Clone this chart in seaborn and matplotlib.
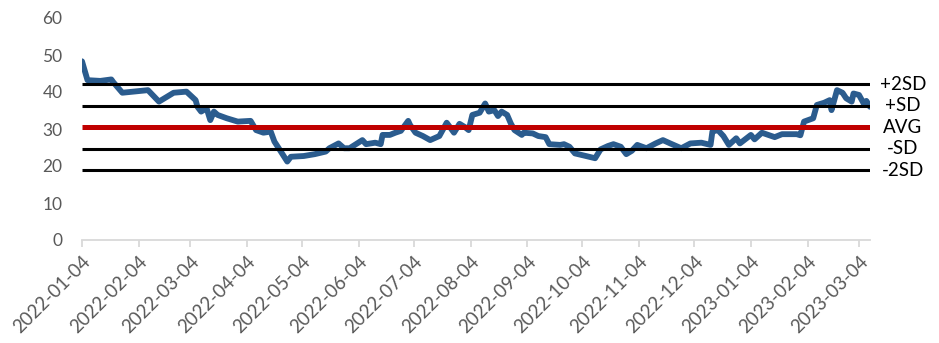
import matplotlib
matplotlib.use("Agg")
import matplotlib.pyplot as plt
import matplotlib.transforms as mtransforms
from matplotlib.transforms import blended_transform_factory
import pandas as pd
import seaborn as sns

# Daily reading of the series (sampled at its turning points)
dates = [
    "2022-01-04", "2022-01-07", "2022-01-14", "2022-01-20", "2022-01-21", "2022-01-26",
    "2022-02-09", "2022-02-15", "2022-02-23", "2022-03-02", "2022-03-07", "2022-03-08",
    "2022-03-10", "2022-03-13", "2022-03-15", "2022-03-17", "2022-03-19", "2022-03-24",
    "2022-03-30", "2022-04-06", "2022-04-09", "2022-04-13", "2022-04-17", "2022-04-19",
    "2022-04-22", "2022-04-26", "2022-04-28", "2022-05-05", "2022-05-11", "2022-05-17",
    "2022-05-19", "2022-05-24", "2022-05-27", "2022-05-30", "2022-06-06", "2022-06-08",
    "2022-06-13", "2022-06-16", "2022-06-17", "2022-06-21", "2022-06-24", "2022-06-27",
    "2022-07-01", "2022-07-02", "2022-07-05", "2022-07-09", "2022-07-13", "2022-07-18",
    "2022-07-22", "2022-07-26", "2022-07-29", "2022-08-01", "2022-08-03", "2022-08-05",
    "2022-08-09", "2022-08-12", "2022-08-14", "2022-08-17", "2022-08-19", "2022-08-21",
    "2022-08-24", "2022-08-26", "2022-08-28", "2022-09-01", "2022-09-02", "2022-09-07",
    "2022-09-10", "2022-09-14", "2022-09-16", "2022-09-22", "2022-09-24", "2022-09-27",
    "2022-09-30", "2022-10-06", "2022-10-11", "2022-10-14", "2022-10-18", "2022-10-21",
    "2022-10-25", "2022-10-28", "2022-10-31", "2022-11-03", "2022-11-08", "2022-11-13",
    "2022-11-17", "2022-11-21", "2022-11-27", "2022-12-02", "2022-12-08", "2022-12-13",
    "2022-12-14", "2022-12-17", "2022-12-20", "2022-12-23", "2022-12-27", "2022-12-29",
    "2023-01-04", "2023-01-06", "2023-01-10", "2023-01-17", "2023-01-21", "2023-01-29",
    "2023-01-31", "2023-02-02", "2023-02-07", "2023-02-09", "2023-02-13", "2023-02-16",
    "2023-02-17", "2023-02-20", "2023-02-23", "2023-02-25", "2023-02-28", "2023-03-01",
    "2023-03-04", "2023-03-07", "2023-03-08", "2023-03-10",
]
values = [
    48.3, 43.2, 43.0, 43.4, 42.7, 39.8,
    40.5, 37.4, 39.8, 40.1, 37.8, 36.0,
    34.7, 35.6, 32.4, 34.7, 33.8, 32.9,
    32.0, 32.2, 29.7, 29.0, 29.3, 26.6,
    24.3, 21.2, 22.5, 22.7, 23.2, 23.9,
    24.8, 26.1, 24.8, 24.8, 27.0, 25.9,
    26.3, 25.9, 28.4, 28.4, 29.0, 29.5,
    32.2, 31.1, 29.0, 28.1, 27.0, 28.1,
    31.7, 29.0, 31.4, 30.5, 29.7, 33.8,
    34.4, 36.9, 34.7, 35.1, 33.5, 34.7,
    33.8, 31.5, 29.7, 28.4, 29.0, 28.8,
    28.1, 27.8, 25.9, 25.7, 25.9, 25.2,
    23.4, 22.7, 22.1, 24.5, 25.4, 25.9,
    25.2, 23.2, 24.1, 25.7, 24.8, 26.1,
    27.0, 26.1, 24.8, 26.1, 26.3, 25.7,
    29.3, 29.7, 28.1, 25.7, 27.5, 26.1,
    28.4, 27.2, 29.0, 27.8, 28.6, 28.6,
    28.3, 32.0, 32.9, 36.5, 37.1, 37.8,
    35.1, 40.5, 39.8, 38.3, 37.4, 39.6,
    39.2, 36.5, 37.6, 36.0,
]

# Band statistics
avg_value = 30.5
sd_value = 5.8
band_names = ["+2SD", "+SD", "AVG", "-SD", "-2SD"]
band_mult = [2, 1, 0, -1, -2]

tick_labels = [
    "2022-01-04", "2022-02-04", "2022-03-04", "2022-04-04", "2022-05-04",
    "2022-06-04", "2022-07-04", "2022-08-04", "2022-09-04", "2022-10-04",
    "2022-11-04", "2022-12-04", "2023-01-04", "2023-02-04", "2023-03-04",
]

sns.set_theme(style="white")
plt.rcParams["font.family"] = ["Lato", "DejaVu Sans"]

df = pd.DataFrame({"date": pd.to_datetime(dates), "value": values})

fig = plt.figure(figsize=(9.39, 3.43), dpi=100)
ax = fig.add_axes([82 / 939, 1 - 240 / 343, 788 / 939, 222 / 343])

sns.lineplot(data=df, x="date", y="value", ax=ax, color="#2B5C8E",
             linewidth=4.2, zorder=2, solid_joinstyle="round",
             solid_capstyle="round")

x0, x1 = df["date"].iloc[0], df["date"].iloc[-1]
label_tf = blended_transform_factory(ax.transAxes, ax.transData)
for name, m in zip(band_names, band_mult):
    level = avg_value + m * sd_value
    is_avg = m == 0
    ax.hlines(level, x0, x1, color="#C00000" if is_avg else "black",
              linewidth=3.6 if is_avg else 2.2, zorder=3)
    ax.text(1.0415, level, name, transform=label_tf, ha="center", va="center",
            fontsize=13.5, color="black", clip_on=False)

ax.set_xlim(x0, x1)
ax.set_ylim(0, 60)
ax.set_yticks(range(0, 61, 10))
ax.set_xticks(pd.to_datetime(tick_labels))
ax.set_xticklabels(tick_labels, rotation=45, ha="right", va="top",
                   rotation_mode="anchor")
ax.set_xlabel("")
ax.set_ylabel("")

# nudge the rotated date labels down and slightly right
shift = mtransforms.ScaledTranslation(4 / 100, -8 / 100, fig.dpi_scale_trans)
for lbl in ax.get_xticklabels():
    lbl.set_transform(lbl.get_transform() + shift)

for side in ("left", "right", "top"):
    ax.spines[side].set_visible(False)
ax.spines["bottom"].set_color("#D9D9D9")
ax.spines["bottom"].set_linewidth(1.3)
ax.tick_params(axis="y", length=0, pad=14, labelsize=12.5, labelcolor="#595959")
ax.tick_params(axis="x", length=5, width=1.3, color="#D9D9D9", direction="out",
               pad=4, labelsize=13.5, labelcolor="#595959", bottom=True)
ax.grid(False)

fig.savefig("out.png", dpi=100)
